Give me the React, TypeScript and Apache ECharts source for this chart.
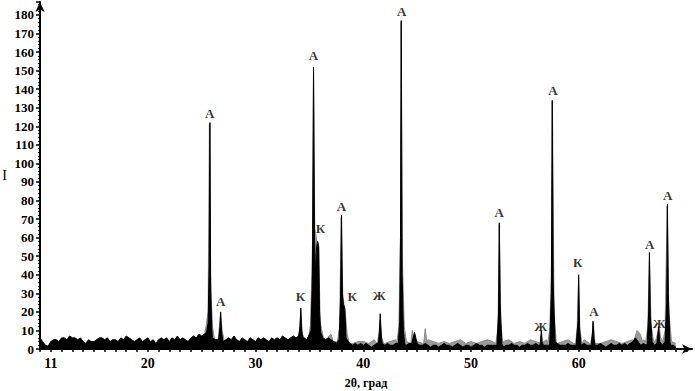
import React, { useEffect, useRef } from "react";
import * as echarts from "echarts";

// ---- data ----
const bgStartBlack = 10;
const bgStepBlack = 0.25;
// background of the dark pattern, one value every 0.25° from 10°
const blackBackground: number[] = [
  // 10.00 - 14.75
  6, 4, 2, 1.5, 4, 5, 5, 4, 6, 6, 5, 7, 6, 6, 5, 6, 4, 3, 5, 4,
  // 15.00 - 19.75
  4, 5, 6, 6, 5, 6, 4, 5, 5, 4, 6, 5, 7, 6, 5, 4, 5, 6, 4, 5,
  // 20.00 - 24.75
  6, 4, 5, 3, 5, 6, 5, 6, 4, 6, 5, 7, 5, 6, 5, 4, 6, 7, 6, 8,
  // 25.00 - 29.75
  7, 8, 10, 9, 6, 5, 5, 5, 4, 5, 6, 5, 7, 5, 4, 6, 5, 4, 6, 5,
  // 30.00 - 34.75
  4, 6, 5, 6, 5, 4, 6, 5, 6, 5, 7, 6, 5, 6, 7, 6, 8, 7, 6, 5,
  // 35.00 - 39.75
  8, 9, 9, 9, 8, 6, 5, 6, 5, 4, 3, 4, 4, 4, 5, 3, 2, 3, 2, 3,
  // 40.00 - 44.75
  2, 3, 2, 1, 2, 3, 2, 2, 2, 3, 2, 2, 3, 2, 2, 3, 2, 3, 3, 9,
  // 45.00 - 49.75
  3, 2, 2, 3, 2, 1, 2, 2, 1, 2, 3, 2, 2, 1, 2, 3, 2, 1, 2, 2,
  // 50.00 - 54.75
  1, 2, 3, 2, 2, 1, 2, 2, 2, 2, 2, 3, 1, 2, 2, 3, 2, 2, 1, 2,
  // 55.00 - 59.75
  2, 3, 2, 2, 3, 2, 4, 2, 2, 2, 2, 2, 3, 2, 2, 2, 3, 2, 2, 2,
  // 60.00 - 64.75
  2, 2, 3, 2, 2, 2, 2, 2, 3, 2, 1, 2, 3, 2, 2, 3, 2, 3, 2, 3,
  // 65.00 - 69.00
  4, 6, 4, 2, 3, 2, 2, 2, 2, 3, 2, 2, 2, 3, 2, 2, 1,
];

const bgStartGray = 10;
const bgStepGray = 0.5;
// background of the light (grey) pattern, one value every 0.5° from 10°
const grayBackground: number[] = [
  // 10 - 19.5
  2, 1, 2, 2, 3, 2, 2, 3, 2, 2, 3, 2, 2, 3, 2, 2, 3, 2, 2, 3,
  // 20 - 29.5
  2, 3, 2, 2, 3, 2, 3, 2, 3, 4, 5, 6, 4, 5, 4, 3, 2, 3, 2, 3,
  // 30 - 39.5
  2, 3, 3, 2, 3, 2, 4, 3, 5, 6, 7, 8, 6, 5, 7, 4, 4, 5, 3, 4,
  // 40 - 49.5
  4, 3, 5, 4, 3, 4, 5, 6, 4, 3, 4, 3, 5, 4, 3, 4, 3, 4, 5, 3,
  // 50 - 59.5
  4, 3, 4, 5, 4, 3, 4, 5, 3, 4, 3, 5, 4, 3, 5, 4, 3, 4, 5, 3,
  // 60 - 69
  4, 5, 3, 4, 3, 4, 5, 4, 3, 4, 5, 6, 5, 6, 4, 5, 4, 5, 3,
];

// sharp reflections of the dark pattern: [2θ, I]
const blackPeaks: [number, number][][] = [
  [[25.45, 9], [25.6, 14], [25.7, 45], [25.77, 122], [25.84, 30], [25.95, 10]],
  [[26.6, 6], [26.7, 12], [26.76, 20], [26.84, 10], [26.95, 5]],
  [[34.0, 7], [34.12, 12], [34.2, 22], [34.28, 10], [34.4, 6]],
  [[35.15, 10], [35.28, 40], [35.38, 152], [35.47, 60], [35.56, 40], [35.66, 55], [35.76, 58], [35.86, 55], [35.94, 20], [36.05, 9]],
  [[37.75, 5], [37.88, 25], [37.98, 72], [38.06, 30], [38.15, 24], [38.28, 22], [38.4, 6]],
  [[41.4, 3], [41.5, 10], [41.57, 19], [41.65, 9], [41.75, 3]],
  [[43.25, 3], [43.38, 15], [43.45, 60], [43.52, 177], [43.6, 40], [43.72, 10], [43.85, 3]],
  [[52.4, 2], [52.55, 20], [52.62, 68], [52.7, 25], [52.85, 3]],
  [[56.4, 2], [56.52, 10], [56.6, 4], [56.7, 2]],
  [[57.3, 3], [57.45, 30], [57.53, 134], [57.62, 35], [57.8, 4]],
  [[59.8, 2], [59.92, 15], [59.98, 40], [60.06, 12], [60.2, 2]],
  [[61.15, 2], [61.25, 8], [61.32, 15], [61.4, 6], [61.5, 2]],
  [[66.35, 3], [66.48, 20], [66.55, 52], [66.63, 18], [66.8, 4]],
  [[67.25, 3], [67.4, 12], [67.5, 4]],
  [[68.0, 4], [68.15, 25], [68.22, 78], [68.3, 30], [68.45, 4]],
];

// broader reflections of the grey pattern
const grayPeaks: [number, number][][] = [
  [[25.2, 5], [25.4, 12], [25.6, 20], [25.72, 121], [25.82, 40], [26.0, 12], [26.2, 5]],
  [[26.5, 4], [26.65, 12], [26.76, 19], [26.9, 10], [27.1, 4]],
  [[33.9, 4], [34.1, 10], [34.2, 20], [34.35, 8], [34.6, 5]],
  [[34.9, 5], [35.1, 13], [35.3, 60], [35.38, 150], [35.5, 65], [35.7, 58], [35.85, 57], [36.0, 14], [36.3, 6]],
  [[36.6, 3], [36.8, 7], [37.0, 8], [37.2, 4]],
  [[37.6, 4], [37.8, 12], [37.95, 71], [38.1, 28], [38.3, 21], [38.5, 8], [38.7, 3]],
  [[41.3, 3], [41.45, 8], [41.57, 16], [41.7, 6], [41.9, 3]],
  [[43.1, 3], [43.3, 12], [43.45, 60], [43.52, 176], [43.62, 50], [43.8, 12], [44.0, 4]],
  [[44.4, 3], [44.55, 10], [44.7, 4]],
  [[45.6, 3], [45.75, 11], [45.9, 3]],
  [[52.3, 3], [52.5, 12], [52.62, 67], [52.75, 14], [52.95, 3]],
  [[57.1, 3], [57.3, 10], [57.45, 40], [57.55, 133], [57.7, 20], [57.9, 4]],
  [[59.7, 3], [59.85, 12], [59.98, 38], [60.1, 10], [60.3, 3]],
  [[61.1, 3], [61.25, 8], [61.35, 14], [61.5, 3]],
  [[65.1, 4], [65.4, 10], [65.7, 8], [65.9, 4]],
  [[66.2, 4], [66.4, 12], [66.55, 50], [66.7, 14], [66.9, 5]],
  [[67.1, 4], [67.3, 8], [67.45, 12], [67.6, 6]],
  [[67.8, 4], [68.0, 10], [68.2, 77], [68.35, 20], [68.6, 4]],
];

// phase labels (2θ, I of label centre, text)
const phaseLabels: [number, number, string][] = [
  [25.74, 127, "A"],
  [26.76, 25.5, "A"],
  [34.17, 28.5, "К"],
  [35.37, 158, "A"],
  [36.02, 65, "К"],
  [37.96, 77, "A"],
  [38.98, 28.5, "К"],
  [41.48, 29, "Ж"],
  [43.55, 182, "A"],
  [52.6, 73.5, "A"],
  [56.45, 12, "Ж"],
  [57.6, 139.5, "A"],
  [59.9, 46.5, "К"],
  [61.4, 20, "A"],
  [66.57, 56.5, "A"],
  [67.45, 14, "Ж"],
  [68.24, 82.5, "A"],
];

const xTickLabels = [11, 20, 30, 40, 50, 60];
const yTickLabels = [0, 10, 20, 30, 40, 50, 60, 70, 80, 90, 100, 110, 120, 130, 140, 150, 160, 170, 180];

function buildPattern(bg: number[], start: number, step: number, peaks: [number, number][][]) {
  const pts: [number, number][] = [];
  bg.forEach((v, i) => {
    const x = +(start + i * step).toFixed(3);
    const inside = peaks.some((p) => x >= p[0][0] && x <= p[p.length - 1][0]);
    if (!inside) pts.push([x, v]);
  });
  peaks.forEach((p) => p.forEach((pt) => pts.push([pt[0], pt[1]])));
  pts.sort((a, b) => a[0] - b[0]);
  return pts;
}

const FONT = "Liberation Serif";

export default function App() {
  const ref = useRef<HTMLDivElement>(null);
  useEffect(() => {
    document.body.style.margin = "0";
    if (!ref.current) return;
    const chart = echarts.init(ref.current, undefined, { renderer: "svg" });
    const grayData = buildPattern(grayBackground, bgStartGray, bgStepGray, grayPeaks);
    const blackData = buildPattern(blackBackground, bgStartBlack, bgStepBlack, blackPeaks);
    chart.setOption({
      animation: false,
      backgroundColor: "#ffffff",
      grid: { left: 40, right: 3, top: 2, bottom: 42, outerBoundsMode: "none" },
      xAxis: {
        type: "value",
        min: 10,
        max: 70.5,
        interval: 1,
        name: "2θ, град",
        nameLocation: "middle",
        nameGap: 28,
        nameTextStyle: { fontFamily: FONT, fontWeight: "bold", fontSize: 12, color: "#000" },
        axisLine: {
          show: true,
          onZero: false,
          symbol: ["none", "arrow"],
          symbolSize: [7, 10],
          lineStyle: { color: "#000", width: 2 },
        },
        axisTick: { show: true, length: 3, lineStyle: { color: "#000", width: 1.5 } },
        axisLabel: {
          showMinLabel: true,
          showMaxLabel: false,
          margin: 7,
          fontFamily: FONT,
          fontWeight: "bold",
          fontSize: 14,
          color: "#000",
          formatter: (v: number) => (xTickLabels.includes(Math.round(v * 100) / 100) ? String(v) : ""),
        },
        splitLine: { show: false },
      },
      yAxis: {
        type: "value",
        min: 0,
        max: 187,
        interval: 10,
        name: "I",
        nameLocation: "middle",
        nameGap: 33,
        nameRotate: 0,
        nameTextStyle: { fontFamily: FONT, fontSize: 14, color: "#000" },
        axisLine: {
          show: true,
          symbol: ["none", "arrow"],
          symbolSize: [7, 10],
          lineStyle: { color: "#000", width: 2 },
        },
        axisTick: { show: true, length: 4, lineStyle: { color: "#000", width: 1.5 } },
        minorTick: { show: true, splitNumber: 5, length: 2, lineStyle: { color: "#000", width: 1 } },
        axisLabel: {
          margin: 6,
          fontFamily: FONT,
          fontWeight: "bold",
          fontSize: 13,
          color: "#000",
          formatter: (v: number) => (yTickLabels.includes(v) ? String(v) : ""),
        },
        splitLine: { show: false },
      },
      series: [
        {
          type: "line",
          data: grayData,
          symbol: "none",
          lineStyle: { color: "#8a8a8a", width: 1 },
          areaStyle: { color: "#9a9a9a", opacity: 1 },
          z: 2,
        },
        {
          type: "line",
          data: blackData,
          symbol: "none",
          lineStyle: { color: "#000", width: 1 },
          areaStyle: { color: "#000", opacity: 1 },
          z: 3,
        },
        {
          type: "scatter",
          data: phaseLabels,
          symbolSize: 0,
          z: 5,
          label: {
            show: true,
            position: "inside",
            fontFamily: FONT,
            fontWeight: "bold",
            fontSize: 13,
            color: "#000",
            formatter: (p: any) => p.data[2],
          },
        },
      ],
    });
    return () => chart.dispose();
  }, []);
  return <div ref={ref} style={{ width: 695, height: 391 }} />;
}
